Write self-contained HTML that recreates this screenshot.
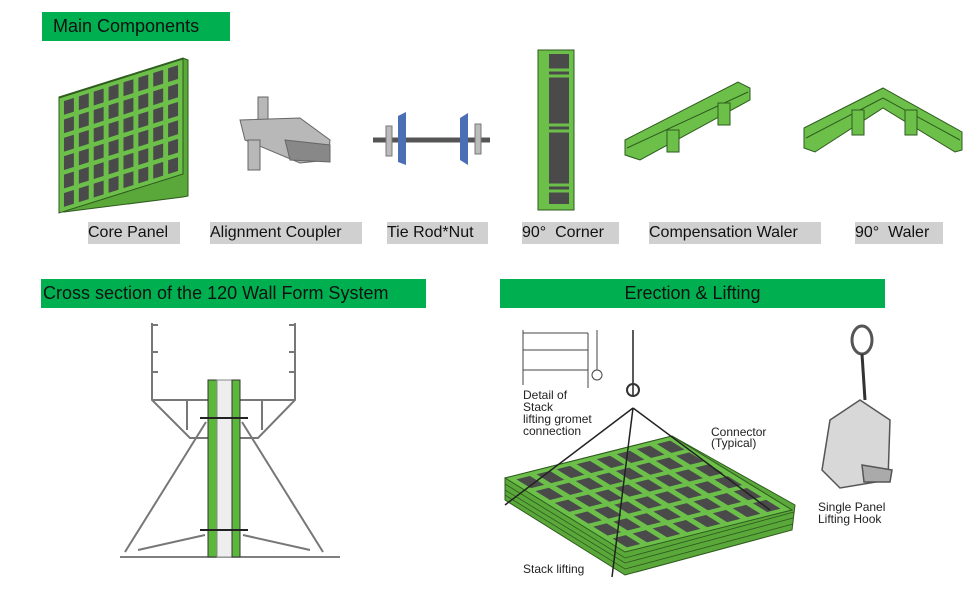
<!DOCTYPE html>
<html><head><meta charset="utf-8"><style>
html,body{margin:0;padding:0;background:#fff;}
body{width:975px;height:591px;overflow:hidden;position:relative;font-family:"Liberation Sans",sans-serif;}
.hdr{position:absolute;background:#00b050;color:#111;font-size:18px;line-height:28px;height:29px;}
.lbl{position:absolute;top:222px;height:22px;background:#d0d0d0;font-size:16px;line-height:22px;color:#111;white-space:nowrap;}
svg{position:absolute;left:0;top:0;}
</style></head><body>
<svg width="975" height="591" viewBox="0 0 975 591">
<defs>
<g id="grid">
<rect x="0" y="0" width="100" height="100" fill="#4a4a4a"/>
<g stroke="#6cc04a" stroke-width="4">
<line x1="2" y1="0" x2="2" y2="100"/><line x1="14" y1="0" x2="14" y2="100"/><line x1="26" y1="0" x2="26" y2="100"/><line x1="38" y1="0" x2="38" y2="100"/><line x1="50" y1="0" x2="50" y2="100"/><line x1="62" y1="0" x2="62" y2="100"/><line x1="74" y1="0" x2="74" y2="100"/><line x1="86" y1="0" x2="86" y2="100"/><line x1="98" y1="0" x2="98" y2="100"/>
<line x1="0" y1="2" x2="100" y2="2"/><line x1="0" y1="18" x2="100" y2="18"/><line x1="0" y1="34" x2="100" y2="34"/><line x1="0" y1="50" x2="100" y2="50"/><line x1="0" y1="66" x2="100" y2="66"/><line x1="0" y1="82" x2="100" y2="82"/><line x1="0" y1="98" x2="100" y2="98"/>
</g>
<rect x="0" y="0" width="100" height="100" fill="none" stroke="#2e5a1e" stroke-width="1" vector-effect="non-scaling-stroke"/>
</g>
</defs>

<!-- core panel -->
<polygon points="59,97 183,58 188,60 188,196 183,197 64,212 59,211" fill="#5aa83a" stroke="#2e5a1e"/>
<g transform="matrix(1.24,-0.39,0,1.15,59,98)"><use href="#grid"/></g>

<!-- alignment coupler -->
<g fill="#b8b8b8" stroke="#666" stroke-width="1">
<rect x="258" y="97" width="10" height="30"/>
<polygon points="240,120 300,118 330,140 328,160 300,163 245,140"/>
<rect x="248" y="140" width="12" height="30"/>
<polygon points="285,140 330,145 330,162 290,160" fill="#888"/>
</g>
<!-- tie rod -->
<line x1="373" y1="140" x2="490" y2="140" stroke="#555" stroke-width="5"/>
<polygon points="398,116 406,112 406,165 398,162" fill="#4b6fb5"/>
<polygon points="460,118 468,113 468,165 460,160" fill="#4b6fb5"/>
<rect x="386" y="126" width="6" height="30" fill="#bbb" stroke="#777"/>
<rect x="475" y="124" width="6" height="30" fill="#bbb" stroke="#777"/>

<!-- 90 corner -->
<rect x="538" y="50" width="36" height="160" fill="#6cc04a" stroke="#2e5a1e"/>
<rect x="549" y="54" width="20" height="150" fill="#4a4a4a"/>
<g stroke="#6cc04a" stroke-width="3"><line x1="549" y1="70" x2="569" y2="70"/><line x1="549" y1="76" x2="569" y2="76"/><line x1="549" y1="125" x2="569" y2="125"/><line x1="549" y1="131" x2="569" y2="131"/><line x1="549" y1="185" x2="569" y2="185"/><line x1="549" y1="191" x2="569" y2="191"/></g>

<!-- compensation waler -->
<polygon points="625,140 738,82 750,88 750,100 640,160 625,155" fill="#6cc04a" stroke="#2e5a1e"/>
<line x1="627" y1="148" x2="748" y2="92" stroke="#2e5a1e"/>
<rect x="667" y="130" width="12" height="22" fill="#6cc04a" stroke="#2e5a1e"/>
<rect x="718" y="103" width="12" height="22" fill="#6cc04a" stroke="#2e5a1e"/>
<!-- 90 waler -->
<polygon points="804,128 883,88 962,132 962,150 955,152 883,108 815,152 804,148" fill="#6cc04a" stroke="#2e5a1e"/>
<line x1="806" y1="138" x2="883" y2="98" stroke="#2e5a1e"/><line x1="883" y1="98" x2="960" y2="140" stroke="#2e5a1e"/>
<rect x="852" y="110" width="12" height="25" fill="#6cc04a" stroke="#2e5a1e"/>
<rect x="905" y="110" width="12" height="25" fill="#6cc04a" stroke="#2e5a1e"/>

<!-- cross section -->
<g fill="none" stroke="#777" stroke-width="2">
<path d="M152,323 V400 L190,438 H208"/>
<path d="M295,323 V400 L258,438 H240"/>
<line x1="152" y1="400" x2="208" y2="400"/><line x1="240" y1="400" x2="295" y2="400"/>
<line x1="187" y1="400" x2="187" y2="430"/><line x1="262" y1="400" x2="262" y2="430"/>
<path d="M152,325 h6 M152,352 h6 M152,372 h6 M295,325 h-6 M295,352 h-6 M295,372 h-6"/>
<line x1="206" y1="422" x2="125" y2="552"/><line x1="242" y1="422" x2="323" y2="552"/>
<line x1="205" y1="535" x2="138" y2="550"/><line x1="243" y1="535" x2="310" y2="550"/>
</g>
<line x1="120" y1="557" x2="340" y2="557" stroke="#555" stroke-width="1.5"/>
<rect x="208" y="380" width="9" height="177" fill="#5cb83c" stroke="#333"/>
<rect x="217" y="380" width="15" height="177" fill="#eee" stroke="#888"/>
<rect x="232" y="380" width="8" height="177" fill="#5cb83c" stroke="#333"/>
<line x1="200" y1="418" x2="248" y2="418" stroke="#222" stroke-width="2"/>
<line x1="200" y1="530" x2="248" y2="530" stroke="#222" stroke-width="2"/>

<!-- stack -->
<polygon points="505,478 672,436 795,505 792,530 625,575 505,500" fill="#5aa83a" stroke="#2e5a1e"/>
<g stroke="#2e5a1e" stroke-width="0.8" fill="none"><path d="M505,484 L625,558 L794,512"/><path d="M505,490 L625,563 L793,518"/><path d="M505,495 L625,569 L793,524"/></g>
<g transform="matrix(1.67,-0.42,1.2,0.74,505,478)"><use href="#grid"/></g>
<!-- chains -->
<g stroke="#222" stroke-width="1.5" fill="none">
<line x1="633" y1="330" x2="633" y2="395"/>
<line x1="633" y1="408" x2="505" y2="505"/>
<line x1="633" y1="408" x2="612" y2="577"/>
<line x1="633" y1="408" x2="770" y2="510"/>
</g>
<circle cx="633" cy="390" r="6" fill="none" stroke="#333" stroke-width="2"/>
<!-- detail -->
<g fill="none" stroke="#444" stroke-width="1">
<path d="M523,330 V385 M523,333 H588 M523,350 H588 M523,370 H588 M588,333 V388 M597,330 V370"/>
<circle cx="597" cy="375" r="5"/>
</g>
<!-- hook -->
<g fill="#d8d8d8" stroke="#555" stroke-width="1.5">
<ellipse cx="862" cy="340" rx="10" ry="14" fill="none" stroke-width="3"/>
<line x1="862" y1="354" x2="865" y2="400" stroke="#333" stroke-width="3"/>
<polygon points="830,420 860,400 890,420 888,480 840,488 822,470"/>
<polygon points="862,465 892,470 890,482 864,482" fill="#aaa"/>
</g>
</svg>

<div class="hdr" style="left:42px;top:12px;width:188px;padding-left:11px;box-sizing:border-box;">Main Components</div>
<div class="hdr" style="left:41px;top:279px;width:385px;padding-left:2px;box-sizing:border-box;">Cross section of the 120 Wall Form System</div>
<div class="hdr" style="left:500px;top:279px;width:385px;text-align:center;">Erection &amp; Lifting</div>

<div class="lbl" style="left:88px;width:92px;">Core Panel</div>
<div class="lbl" style="left:210px;width:152px;">Alignment Coupler</div>
<div class="lbl" style="left:387px;width:101px;">Tie Rod*Nut</div>
<div class="lbl" style="left:522px;width:97px;">90° &nbsp;Corner</div>
<div class="lbl" style="left:649px;width:172px;">Compensation Waler</div>
<div class="lbl" style="left:855px;width:88px;">90° &nbsp;Waler</div>

<div style="position:absolute;left:523px;top:389px;font-size:12px;line-height:12px;color:#222;">Detail of<br>Stack<br>lifting gromet<br>connection</div>
<div style="position:absolute;left:711px;top:427px;font-size:12px;line-height:11px;color:#222;">Connector<br>(Typical)</div>
<div style="position:absolute;left:523px;top:562px;font-size:12px;color:#222;">Stack lifting</div>
<div style="position:absolute;left:818px;top:501px;font-size:12px;line-height:12px;color:#222;">Single Panel<br>Lifting Hook</div>
</body></html>
